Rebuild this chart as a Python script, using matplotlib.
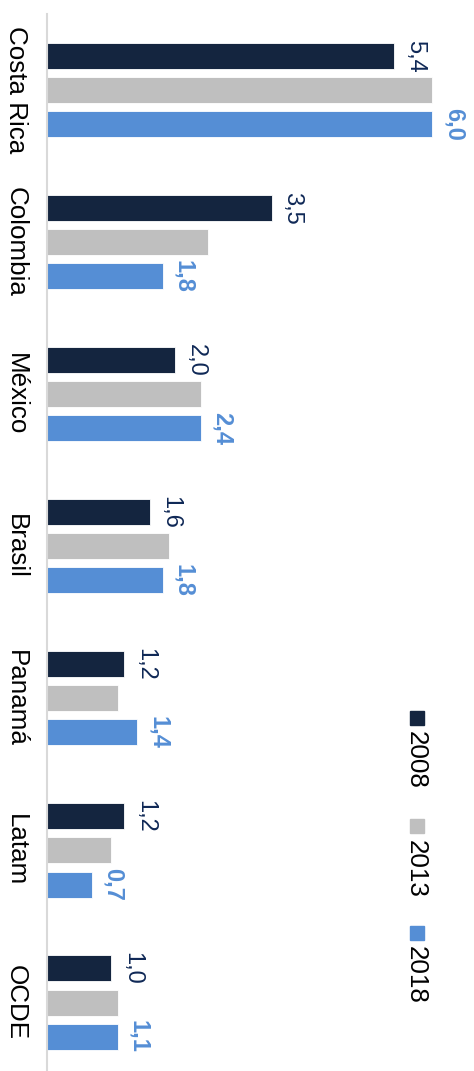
import matplotlib
matplotlib.use("Agg")
import matplotlib.pyplot as plt
from matplotlib.patches import Rectangle
import numpy as np

categories = ["Costa Rica", "Colombia", "México", "Brasil", "Panamá", "Latam", "OCDE"]
years = ["2008", "2013", "2018"]
v2008 = [5.4, 3.5, 2.0, 1.6, 1.2, 1.2, 1.0]
v2013 = [6.0, 2.5, 2.4, 1.9, 1.1, 1.0, 1.1]
v2018 = [6.0, 1.8, 2.4, 1.8, 1.4, 0.7, 1.1]

c2008 = "#14253f"
c2013 = "#bfbfbf"
c2018 = "#558ed5"
lab2008 = "#0f2856"

plt.rcParams['font.family'] = ['Liberation Sans', 'DejaVu Sans']

W, H = 474, 1071
fig = plt.figure(figsize=(W/100, H/100), dpi=100)
ax = fig.add_axes([47/W, 0, (471-47)/W, (1071-14)/H])

y = np.arange(len(categories))
h = 0.171
off = 0.224
series = [(v2008, c2008), (v2013, c2013), (v2018, c2018)]
for i, (vals, col) in enumerate(series):
    ax.barh(y + (i-1)*off, vals, height=h, color=col, edgecolor="white", linewidth=0.6)

for yi, v in zip(y, v2008):
    ax.annotate(f"{v:.1f}".replace(".", ","), (v, yi - off), xytext=(7, 0),
                textcoords="offset points", rotation=-90, ha="left", va="center",
                fontsize=17, color=lab2008)
for yi, v in zip(y, v2018):
    ax.annotate(f"{v:.1f}".replace(".", ","), (v, yi + off), xytext=(7, 0),
                textcoords="offset points", rotation=-90, ha="left", va="center",
                fontsize=17, color=c2018, fontweight="bold")

ax.set_xlim(0, 6.6)
ax.set_ylim(6.45, -0.5)
ax.set_yticks(y)
ax.set_yticklabels(categories, rotation=-90, fontsize=18.7, color="black")
for lbl in ax.get_yticklabels():
    lbl.set_va("center")
    lbl.set_ha("right")
ax.tick_params(axis="y", length=0, pad=14)
ax.set_xticks([])
for s in ["top", "right", "bottom"]:
    ax.spines[s].set_visible(False)
ax.spines["left"].set_color("#d9d9d9")
ax.spines["left"].set_linewidth(1.5)

# legend (rotated)
leg = [(718, 731, c2008, years[0]), (826, 840, c2013, years[1]), (933, 946, c2018, years[2])]
for sq_y, ty, col, txt in leg:
    fig.patches.append(Rectangle(((417-7)/W, 1-(sq_y+7)/H), 14/W, 14/H,
                                 transform=fig.transFigure, color=col))
    fig.text(416/W, 1-ty/H, txt, rotation=-90, ha="center", va="top",
             fontsize=18.7, color="black")

fig.savefig("out.png", dpi=100)
